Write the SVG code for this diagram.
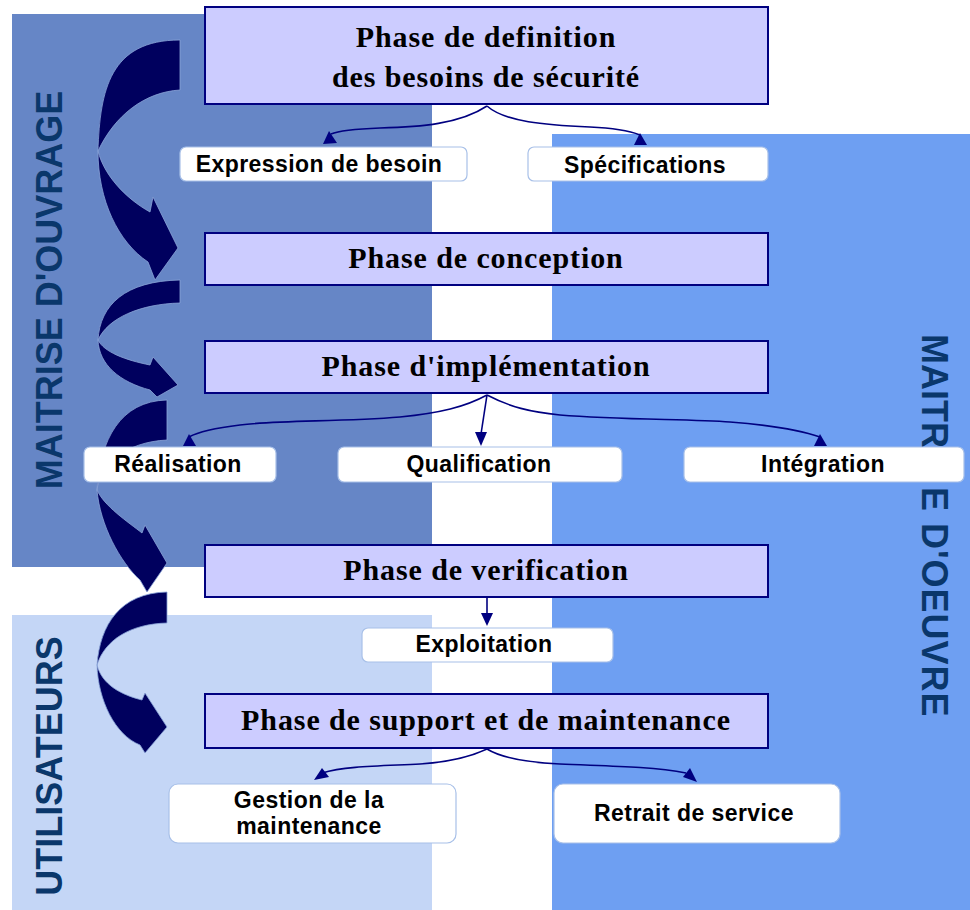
<svg xmlns="http://www.w3.org/2000/svg" xmlns:xlink="http://www.w3.org/1999/xlink" width="970" height="910" viewBox="0 0 970 910">
  <style>
    .phase rect { fill: #ccccff; stroke: #000080; stroke-width: 2; }
    .phase text { font-family: "Liberation Serif", "Times New Roman", serif; font-weight: bold; font-size: 30px; letter-spacing: 0.9px; fill: #000; text-anchor: middle; }
    .label rect { fill: #ffffff; stroke: #a8c0e8; stroke-width: 1.2; }
    .label text { font-family: "Liberation Sans", Arial, sans-serif; font-weight: bold; font-size: 23px; letter-spacing: 0.45px; fill: #000; text-anchor: middle; }
    .role { font-family: "Liberation Sans", Arial, sans-serif; font-weight: bold; font-size: 36px; fill: #0a376b; text-anchor: middle; }
    .conn path { fill: none; stroke: #000080; stroke-width: 1.6; }
    .conn polygon { fill: #000080; }
    .big path { fill: #00005e; stroke: #8aa4d8; stroke-width: 0.8; }
  </style>

  <!-- background zones -->
  <g id="zones">
    <rect x="12" y="14" width="420" height="553" fill="#6686c6"/>
    <rect x="552" y="134" width="418" height="776" fill="#6e9ff2"/>
    <rect x="12" y="615" width="420" height="295" fill="#c4d6f6"/>
    <text class="role" transform="translate(62,290) rotate(-90)">MAITRISE D'OUVRAGE</text>
    <text class="role" transform="translate(62,766) rotate(-90)">UTILISATEURS</text>
    <text class="role" style="text-anchor:start" transform="translate(922,0) rotate(90)"><tspan x="334">MAITRIS</tspan><tspan x="487" style="letter-spacing:1px">E D'OEUVRE</tspan></text>
  </g>

  <!-- big curved flow arrows -->
  <g id="flow-arrows" class="big">
    <path d="M180,40 C110,40 100,90 98,151 C115,115 145,92 180,90 Z"/>
    <path d="M98,151 C98,200 118,242 148,262 L155,280 L178,248 L153,197 L150,212 C125,198 104,175 98,151 Z"/>
    <path d="M180,280 C125,281 100,305 98,340 C108,318 140,304 180,303 Z"/>
    <path d="M98,340 C99,365 120,382 150,390 L157,397 L178,385 L153,357 L150,365 C125,360 104,352 98,340 Z"/>
    <path d="M167,400 C120,401 100,440 97,490 C100,465 125,442 167,440 Z"/>
    <path d="M97,490 C100,525 120,562 140,580 L147,592 L167,563 L145,525 L142,533 C128,522 104,506 97,490 Z"/>
    <path d="M167,592 C120,593 100,625 97,665 C105,640 130,624 167,623 Z"/>
    <path d="M97,665 C98,700 115,735 140,745 L145,753 L167,727 L145,693 L142,700 C122,695 102,685 97,665 Z"/>
  </g>

  <!-- connectors -->
  <g id="connectors" class="conn">
    <path d="M487,106 C460,124 420,127 380,128 C355,129 338,131 331,134"/>
    <polygon points="329,131 323,144 337,143"/>
    <path d="M487,106 C505,122 545,125 590,127 C615,128 630,131 640,135"/>
    <polygon points="640,133 634,145 647,145"/>

    <path d="M487,395 C465,407 440,413 400,417 C340,422 280,420 240,425 C215,428 198,432 189,437"/>
    <polygon points="189,434 183,446 196,446"/>
    <path d="M487,395 L481,434"/>
    <polygon points="475,432 487,432 481,446"/>
    <path d="M487,395 C510,407 530,412 560,415 C620,420 690,419 730,422 C770,425 800,430 820,437"/>
    <polygon points="820,434 814,446 827,446"/>

    <path d="M487,597 L487,614"/>
    <polygon points="481,613 493,613 487,626"/>

    <path d="M487,749 C470,757 450,762 420,764 C380,766 345,766 322,773"/>
    <polygon points="314,780 329,777 322,768"/>
    <path d="M487,749 C500,757 520,762 560,764 C600,766 650,766 686,773"/>
    <polygon points="697,782 683,777 690,768"/>
  </g>

  <!-- phase nodes -->
  <g id="phase-definition" class="phase">
    <rect x="205" y="7" width="563" height="97"/>
    <text x="486" y="47">Phase de definition</text>
    <text x="486" y="87">des besoins de sécurité</text>
  </g>
  <g id="phase-conception" class="phase">
    <rect x="205" y="233" width="563" height="52"/>
    <text x="486" y="268">Phase de conception</text>
  </g>
  <g id="phase-implementation" class="phase">
    <rect x="205" y="341" width="563" height="52"/>
    <text x="486" y="376">Phase d'implémentation</text>
  </g>
  <g id="phase-verification" class="phase">
    <rect x="205" y="545" width="563" height="52"/>
    <text x="486" y="580">Phase de verification</text>
  </g>
  <g id="phase-support" class="phase">
    <rect x="205" y="694" width="563" height="54"/>
    <text x="486" y="730">Phase de support et de maintenance</text>
  </g>

  <!-- label nodes -->
  <g id="label-expression" class="label">
    <rect x="180" y="147" width="287" height="34" rx="6"/>
    <text x="319" y="172">Expression de besoin</text>
  </g>
  <g id="label-specifications" class="label">
    <rect x="528" y="147" width="240" height="34" rx="6"/>
    <text x="645" y="173">Spécifications</text>
  </g>
  <g id="label-realisation" class="label">
    <rect x="84" y="447" width="192" height="35" rx="6"/>
    <text x="178" y="472">Réalisation</text>
  </g>
  <g id="label-qualification" class="label">
    <rect x="338" y="447" width="284" height="35" rx="6"/>
    <text x="479" y="472">Qualification</text>
  </g>
  <g id="label-integration" class="label">
    <rect x="684" y="447" width="280" height="35" rx="6"/>
    <text x="823" y="472">Intégration</text>
  </g>
  <g id="label-exploitation" class="label">
    <rect x="362" y="628" width="251" height="34" rx="6"/>
    <text x="484" y="652">Exploitation</text>
  </g>
  <g id="label-gestion" class="label">
    <rect x="169" y="784" width="287" height="59" rx="9"/>
    <text x="309" y="808">Gestion de la</text>
    <text x="309" y="834">maintenance</text>
  </g>
  <g id="label-retrait" class="label">
    <rect x="554" y="784" width="286" height="59" rx="9"/>
    <text x="694" y="821">Retrait de service</text>
  </g>
</svg>
